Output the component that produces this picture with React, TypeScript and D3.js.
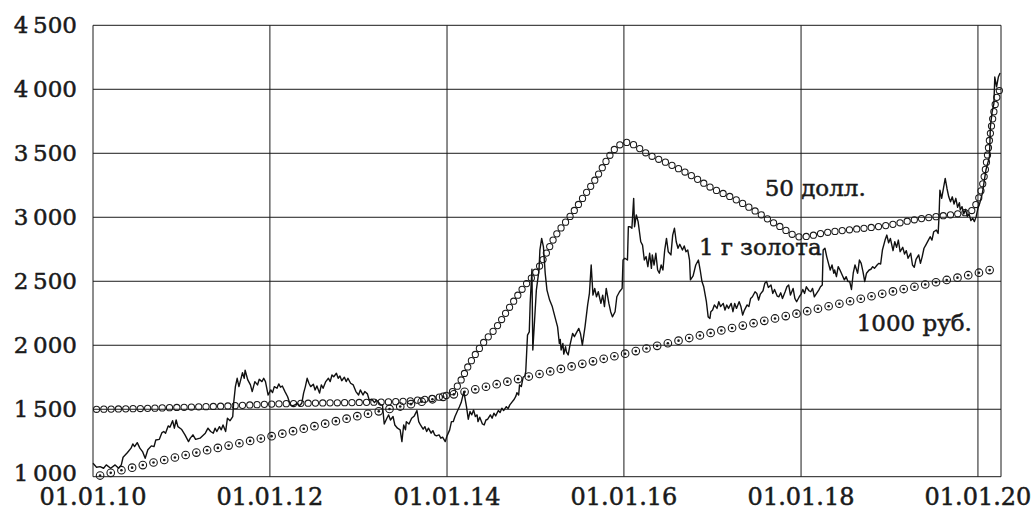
import * as d3 from 'd3';
import { useEffect, useRef } from 'react';

// axis
const yearTicks = [2010, 2012, 2014, 2016, 2018, 2020];
const yearLabels = ['01.01.10', '01.01.12', '01.01.14', '01.01.16', '01.01.18', '01.01.20'];
const valueTicks = [1000, 1500, 2000, 2500, 3000, 3500, 4000, 4500];
const valueLabels = ['1\u2009000', '1\u2009500', '2\u2009000', '2\u2009500', '3\u2009000', '3\u2009500', '4\u2009000', '4\u2009500'];

// [decimal year, rubles]
const gold: [number, number][] = [
	[2010.0, 1078], [2010.04, 1047], [2010.08, 1052], [2010.12, 1039], [2010.15, 1065], [2010.2, 1039],
	[2010.25, 1065], [2010.29, 1039], [2010.32, 1065], [2010.34, 1125], [2010.39, 1162], [2010.43, 1196],
	[2010.45, 1229], [2010.47, 1208], [2010.5, 1239], [2010.53, 1196], [2010.56, 1169], [2010.59, 1117],
	[2010.62, 1183], [2010.66, 1214], [2010.69, 1208], [2010.71, 1260], [2010.75, 1265], [2010.78, 1318],
	[2010.8, 1326], [2010.82, 1313], [2010.85, 1370], [2010.87, 1360], [2010.9, 1411], [2010.92, 1352],
	[2010.94, 1416], [2010.96, 1364], [2011.0, 1344], [2011.04, 1300], [2011.08, 1247], [2011.1, 1274],
	[2011.13, 1300], [2011.16, 1265], [2011.21, 1274], [2011.27, 1313], [2011.3, 1352], [2011.33, 1326],
	[2011.36, 1313], [2011.38, 1352], [2011.4, 1326], [2011.43, 1364], [2011.45, 1339], [2011.47, 1377],
	[2011.5, 1326], [2011.52, 1430], [2011.55, 1411], [2011.58, 1443], [2011.59, 1547], [2011.61, 1677],
	[2011.63, 1742], [2011.65, 1677], [2011.67, 1729], [2011.69, 1785], [2011.71, 1742], [2011.72, 1806],
	[2011.75, 1729], [2011.78, 1690], [2011.8, 1638], [2011.83, 1716], [2011.86, 1690], [2011.88, 1734],
	[2011.91, 1716], [2011.93, 1742], [2011.95, 1716], [2011.98, 1611], [2012.01, 1651], [2012.03, 1630],
	[2012.05, 1677], [2012.08, 1664], [2012.1, 1698], [2012.12, 1672], [2012.14, 1682], [2012.17, 1638],
	[2012.2, 1598], [2012.23, 1534], [2012.26, 1526], [2012.28, 1534], [2012.31, 1547], [2012.33, 1526],
	[2012.36, 1547], [2012.38, 1626], [2012.4, 1677], [2012.42, 1742], [2012.44, 1703], [2012.46, 1677],
	[2012.49, 1695], [2012.51, 1651], [2012.53, 1682], [2012.56, 1626], [2012.58, 1690], [2012.6, 1664],
	[2012.63, 1716], [2012.66, 1742], [2012.68, 1716], [2012.7, 1768], [2012.72, 1754], [2012.75, 1781],
	[2012.77, 1742], [2012.79, 1760], [2012.81, 1723], [2012.84, 1750], [2012.86, 1716], [2012.88, 1742],
	[2012.91, 1703], [2012.94, 1690], [2012.97, 1638], [2013.0, 1611], [2013.02, 1651], [2013.05, 1611],
	[2013.07, 1638], [2013.1, 1620], [2013.12, 1572], [2013.15, 1578], [2013.18, 1552], [2013.2, 1572],
	[2013.22, 1559], [2013.25, 1534], [2013.27, 1534], [2013.29, 1385], [2013.32, 1430], [2013.34, 1456],
	[2013.36, 1416], [2013.39, 1443], [2013.41, 1377], [2013.44, 1352], [2013.47, 1339], [2013.49, 1247],
	[2013.51, 1377], [2013.53, 1339], [2013.54, 1403], [2013.57, 1385], [2013.6, 1430], [2013.63, 1448],
	[2013.66, 1490], [2013.68, 1403], [2013.7, 1377], [2013.73, 1344], [2013.75, 1364], [2013.77, 1326],
	[2013.79, 1352], [2013.82, 1313], [2013.84, 1333], [2013.86, 1300], [2013.88, 1292], [2013.91, 1300],
	[2013.93, 1274], [2013.95, 1282], [2013.98, 1247], [2014.0, 1292], [2014.03, 1339], [2014.05, 1403],
	[2014.07, 1403], [2014.09, 1443], [2014.12, 1490], [2014.14, 1520], [2014.16, 1552], [2014.19, 1638],
	[2014.21, 1559], [2014.22, 1520], [2014.24, 1422], [2014.26, 1482], [2014.28, 1456], [2014.3, 1495],
	[2014.32, 1443], [2014.34, 1456], [2014.35, 1403], [2014.37, 1438], [2014.4, 1385], [2014.42, 1377],
	[2014.44, 1416], [2014.46, 1422], [2014.49, 1456], [2014.51, 1430], [2014.53, 1469], [2014.55, 1448],
	[2014.58, 1490], [2014.6, 1474], [2014.62, 1508], [2014.64, 1490], [2014.67, 1520], [2014.69, 1505],
	[2014.71, 1534], [2014.73, 1552], [2014.76, 1578], [2014.78, 1605], [2014.79, 1630], [2014.81, 1611],
	[2014.82, 1690], [2014.84, 1677], [2014.86, 1750], [2014.88, 1760], [2014.89, 1793], [2014.9, 1937],
	[2014.91, 2079], [2014.93, 2105], [2014.94, 2326], [2014.96, 2594], [2014.97, 1963], [2014.99, 2196],
	[2015.01, 2431], [2015.04, 2588], [2015.05, 2743], [2015.07, 2835], [2015.09, 2769], [2015.11, 2563],
	[2015.13, 2431], [2015.16, 2353], [2015.19, 2302], [2015.22, 2222], [2015.25, 2144], [2015.27, 2014],
	[2015.28, 2046], [2015.29, 1963], [2015.31, 2014], [2015.32, 1931], [2015.34, 1988], [2015.35, 1949],
	[2015.37, 1924], [2015.39, 2001], [2015.42, 2093], [2015.44, 2067], [2015.47, 2106], [2015.49, 2132],
	[2015.51, 2088], [2015.53, 2001], [2015.56, 2144], [2015.59, 2315], [2015.61, 2405], [2015.63, 2627],
	[2015.65, 2392], [2015.67, 2444], [2015.69, 2379], [2015.71, 2418], [2015.74, 2327], [2015.76, 2392],
	[2015.78, 2302], [2015.8, 2444], [2015.83, 2327], [2015.85, 2262], [2015.87, 2222], [2015.9, 2262],
	[2015.92, 2379], [2015.95, 2418], [2015.98, 2444], [2015.99, 2666], [2016.01, 2680], [2016.04, 2666],
	[2016.05, 2926], [2016.07, 2926], [2016.09, 2914], [2016.11, 3148], [2016.12, 2926], [2016.14, 3018],
	[2016.16, 2966], [2016.19, 2809], [2016.21, 2783], [2016.23, 2666], [2016.25, 2693], [2016.27, 2614],
	[2016.29, 2719], [2016.31, 2601], [2016.32, 2706], [2016.34, 2627], [2016.36, 2719], [2016.38, 2588],
	[2016.4, 2563], [2016.42, 2627], [2016.44, 2588], [2016.46, 2744], [2016.48, 2835], [2016.5, 2731],
	[2016.53, 2706], [2016.55, 2861], [2016.57, 2914], [2016.59, 2809], [2016.61, 2758], [2016.63, 2789],
	[2016.66, 2744], [2016.68, 2776], [2016.7, 2731], [2016.72, 2744], [2016.74, 2666], [2016.75, 2511],
	[2016.78, 2542], [2016.81, 2627], [2016.84, 2666], [2016.86, 2588], [2016.88, 2498], [2016.9, 2457],
	[2016.93, 2340], [2016.95, 2222], [2016.97, 2210], [2016.98, 2262], [2017.0, 2275], [2017.02, 2315],
	[2017.05, 2288], [2017.07, 2340], [2017.09, 2302], [2017.12, 2327], [2017.14, 2275], [2017.16, 2315],
	[2017.18, 2288], [2017.21, 2327], [2017.23, 2262], [2017.25, 2327], [2017.27, 2288], [2017.3, 2340],
	[2017.32, 2302], [2017.34, 2236], [2017.36, 2275], [2017.39, 2315], [2017.41, 2302], [2017.43, 2366],
	[2017.45, 2379], [2017.48, 2418], [2017.5, 2405], [2017.52, 2353], [2017.54, 2400], [2017.57, 2426],
	[2017.59, 2484], [2017.61, 2498], [2017.63, 2452], [2017.66, 2471], [2017.68, 2405], [2017.7, 2436],
	[2017.73, 2384], [2017.75, 2379], [2017.77, 2410], [2017.79, 2366], [2017.82, 2418], [2017.84, 2457],
	[2017.86, 2471], [2017.88, 2392], [2017.91, 2444], [2017.93, 2366], [2017.95, 2340], [2017.98, 2379],
	[2018.0, 2400], [2018.02, 2436], [2018.04, 2405], [2018.06, 2457], [2018.09, 2426], [2018.11, 2418],
	[2018.13, 2444], [2018.15, 2379], [2018.17, 2400], [2018.2, 2431], [2018.22, 2457], [2018.24, 2471],
	[2018.25, 2744], [2018.27, 2758], [2018.29, 2693], [2018.31, 2640], [2018.33, 2588], [2018.35, 2627],
	[2018.37, 2563], [2018.38, 2588], [2018.4, 2536], [2018.42, 2614], [2018.44, 2588], [2018.46, 2557],
	[2018.49, 2511], [2018.51, 2536], [2018.53, 2498], [2018.55, 2498], [2018.57, 2436], [2018.59, 2563],
	[2018.61, 2627], [2018.64, 2563], [2018.66, 2666], [2018.68, 2640], [2018.7, 2575], [2018.72, 2498],
	[2018.74, 2563], [2018.77, 2588], [2018.79, 2594], [2018.81, 2614], [2018.83, 2601], [2018.86, 2627],
	[2018.88, 2640], [2018.9, 2635], [2018.92, 2744], [2018.95, 2822], [2018.97, 2861], [2018.99, 2801],
	[2019.01, 2835], [2019.04, 2739], [2019.06, 2809], [2019.08, 2765], [2019.1, 2822], [2019.12, 2731],
	[2019.15, 2765], [2019.17, 2713], [2019.19, 2739], [2019.21, 2680], [2019.24, 2719], [2019.26, 2627],
	[2019.28, 2609], [2019.3, 2671], [2019.33, 2706], [2019.35, 2640], [2019.37, 2693], [2019.39, 2758],
	[2019.41, 2783], [2019.44, 2822], [2019.46, 2848], [2019.48, 2822], [2019.5, 2887], [2019.53, 2900],
	[2019.55, 2874], [2019.56, 3004], [2019.57, 3212], [2019.59, 3148], [2019.61, 3225], [2019.63, 3304],
	[2019.65, 3225], [2019.67, 3160], [2019.69, 3121], [2019.71, 3160], [2019.73, 3104], [2019.75, 3148],
	[2019.77, 3078], [2019.79, 3114], [2019.8, 3057], [2019.82, 3083], [2019.84, 3026], [2019.86, 3062],
	[2019.88, 3005], [2019.9, 3026], [2019.92, 2974], [2019.94, 2993], [2019.96, 2966], [2019.98, 3005],
	[2020.0, 3070], [2020.02, 3109], [2020.05, 3187], [2020.07, 3278], [2020.09, 3369], [2020.11, 3421],
	[2020.13, 3473], [2020.14, 3706], [2020.16, 3824], [2020.18, 3889], [2020.19, 4096], [2020.21, 4019],
	[2020.23, 4096], [2020.25, 4127],
];

// 50 dollars in rubles
const dollars50: [number, number][] = [
	[2010.04, 1500], [2010.5, 1505], [2011.0, 1515], [2011.5, 1525], [2012.0, 1540], [2012.5, 1548],
	[2013.0, 1553], [2013.5, 1562], [2013.75, 1578], [2013.92, 1596], [2014.03, 1620], [2014.11, 1674],
	[2014.26, 1862], [2014.41, 2018], [2014.56, 2143], [2014.71, 2300], [2014.86, 2448], [2015.02, 2588],
	[2015.13, 2729], [2015.2, 2823], [2015.42, 3034], [2015.65, 3268], [2015.95, 3565], [2016.04, 3585],
	[2016.15, 3549], [2016.25, 3502], [2016.5, 3420], [2016.75, 3330], [2017.0, 3225], [2017.25, 3143],
	[2017.5, 3041], [2017.75, 2932], [2018.0, 2846], [2018.08, 2852], [2018.25, 2877], [2018.52, 2900],
	[2019.0, 2940], [2019.27, 2979], [2019.83, 3034], [2019.91, 3044], [2019.985, 3112], [2020.02, 3174],
	[2020.07, 3317], [2020.105, 3473], [2020.135, 3630], [2020.17, 3786], [2020.21, 3930], [2020.255, 4008],
];

// 1000 rubles deposit
const rubles1000: [number, number][] = [
	[2010.08, 982], [2010.3, 1020], [2010.6, 1070], [2011.0, 1135], [2012.0, 1287], [2013.0, 1448],
	[2014.0, 1604], [2015.0, 1768], [2016.0, 1932], [2017.0, 2100], [2018.0, 2255], [2019.0, 2415],
	[2020.0, 2565], [2020.23, 2604],
];

const notes = [
	{ text: '50 долл.', t: 2018.16, v: 3166 },
	{ text: '1 г золота', t: 2017.54, v: 2705 },
	{ text: '1000 руб.', t: 2019.28, v: 2112 },
];

const toDate = (t: number) => {
	const y = Math.floor(t);
	const a = Date.UTC(y, 0, 1),
		b = Date.UTC(y + 1, 0, 1);
	return new Date(a + (t - y) * (b - a));
};

const width = 1035,
	height = 510;
const font = "'DejaVu Serif', serif";
const ink = '#1a1a1a';

export default function App() {
	const svgRef = useRef<SVGSVGElement>(null);

	const xScale = d3
		.scaleUtc()
		.domain([toDate(2010), toDate(2020.26)])
		.range([93, 1001]);
	const yScale = d3.scaleLinear().domain([973, 4500]).range([476.7, 25.3]);

	const line = d3
		.line<[number, number]>()
		.x((d) => xScale(toDate(d[0])))
		.y((d) => yScale(d[1]));
	const smooth = d3
		.line<[number, number]>()
		.curve(d3.curveMonotoneX)
		.x((d) => xScale(toDate(d[0])))
		.y((d) => yScale(d[1]));

	const [x0, x1] = xScale.range();
	const [yb, yt] = yScale.range();

	useEffect(() => {
		const svg = d3.select(svgRef.current!);
		// markers spaced evenly along each curve
		const along = (sel: string, step: number) => {
			const node = svg.select<SVGPathElement>(sel).node()!;
			const total = node.getTotalLength();
			return d3.range(0, total + 0.5, step).map((l) => node.getPointAtLength(l));
		};
		const g = svg.select('.markers');
		g.selectAll('*').remove();

		const rub = along('.rub-path', 11);
		g.append('g')
			.selectAll('circle')
			.data(rub)
			.join('circle')
			.attr('cx', (p) => p.x)
			.attr('cy', (p) => p.y)
			.attr('r', 3.8)
			.attr('fill', 'none')
			.attr('stroke', ink)
			.attr('stroke-width', 1.1);
		g.append('g')
			.selectAll('circle')
			.data(rub)
			.join('circle')
			.attr('cx', (p) => p.x)
			.attr('cy', (p) => p.y)
			.attr('r', 1.3)
			.attr('fill', ink);

		const usd = along('.usd-path', 7.3);
		g.append('g')
			.selectAll('circle')
			.data(usd)
			.join('circle')
			.attr('cx', (p) => p.x)
			.attr('cy', (p) => p.y)
			.attr('r', 3.1)
			.attr('fill', 'none')
			.attr('stroke', ink)
			.attr('stroke-width', 1.05);
	}, []);

	const textStyle = { fontFamily: font, fill: ink, stroke: ink, strokeWidth: 0.5 };

	return (
		<svg
			ref={svgRef}
			width={width}
			height={height}
			style={{ position: 'absolute', left: 0, top: 0, background: 'white' }}
		>
			{/* grid */}
			<g stroke={ink} strokeWidth={1}>
				{valueTicks
					.filter((v) => v > 1000)
					.map((v) => (
						<line key={v} x1={x0} x2={x1} y1={yScale(v)} y2={yScale(v)} />
					))}
				{yearTicks.map((t) => (
					<line key={t} x1={xScale(toDate(t))} x2={xScale(toDate(t))} y1={yt} y2={yb} />
				))}
				<line x1={x0} x2={x1} y1={yb} y2={yb} />
				<line x1={x1} x2={x1} y1={yt} y2={yb} />
			</g>
			{/* left axis labels */}
			<g {...textStyle} fontSize={23} textAnchor="end">
				{valueTicks.map((v, i) => (
					<text key={v} x={77} y={yScale(v) + 8}>
						{valueLabels[i]}
					</text>
				))}
			</g>
			{/* bottom axis labels */}
			<g {...textStyle} fontSize={24} textAnchor="middle">
				{yearTicks.map((t, i) => (
					<text key={t} x={xScale(toDate(t))} y={505}>
						{yearLabels[i]}
					</text>
				))}
			</g>

			<path className="rub-path" d={smooth(rubles1000)!} fill="none" stroke="none" />
			<path className="usd-path" d={smooth(dollars50)!} fill="none" stroke="none" />
			<g className="markers" />
			<path d={line(gold)!} fill="none" stroke="#111" strokeWidth={1.4} strokeLinejoin="round" />

			{/* series labels */}
			<g {...textStyle} fontSize={23} textAnchor="middle">
				{notes.map((n) => (
					<text key={n.text} x={xScale(toDate(n.t))} y={yScale(n.v)}>
						{n.text}
					</text>
				))}
			</g>
		</svg>
	);
}
